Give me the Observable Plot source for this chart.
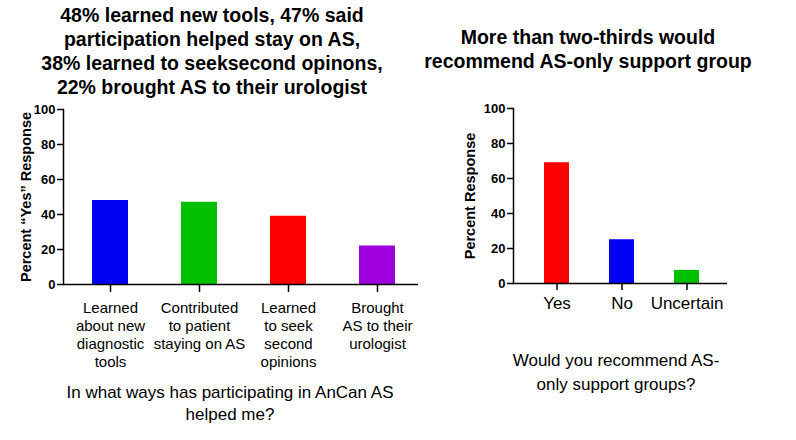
<!DOCTYPE html>
<html>
<head>
<meta charset="utf-8">
<script src="https://cdn.jsdelivr.net/npm/d3@7"></script>
<script src="https://cdn.jsdelivr.net/npm/@observablehq/plot@0.6"></script>
<style>
  body { margin: 0; background: #fff; font-family: "Liberation Sans", Arial, sans-serif; color: #000; }
  #wrap { position: relative; width: 796px; height: 440px; overflow: hidden; background: #fff; }
  .t { position: absolute; text-align: center; white-space: nowrap; color: #000; }
  .title { font-weight: bold; font-size: 19.5px; line-height: 24px; }
  .xt { font-size: 17px; }
  g[aria-label="y-axis label"] { font-size: 14.5px; }
</style>
</head>
<body>
<div id="wrap">
  <div class="t title" style="left:0px; width:424px; top:3px;">48% learned new tools, 47% said<br>participation helped stay on AS,<br>38% learned to seeksecond opinons,<br>22% brought AS to their urologist</div>
  <div class="t title" style="left:388px; width:400px; top:25px;">More than two-thirds would<br>recommend AS-only support group</div>
  <div class="t xt" style="left:30px; width:400px; top:382px; line-height:22px;">In what ways has participating in AnCan AS<br>helped me?</div>
  <div class="t xt" style="left:466px; width:300px; top:349px; line-height:24px;">Would you recommend AS-<br>only support groups?</div>
</div>
<script>
// Left panel data
const helpCategories = [
  "Learned\nabout new\ndiagnostic\ntools",
  "Contributed\nto patient\nstaying on AS",
  "Learned\nto seek\nsecond\nopinions",
  "Brought\nAS to their\nurologist"
];
const helpValues = [48, 47, 39, 22];
const helpColors = ["#0000f5", "#00c000", "#ff0000", "#a000e0"];

// Right panel data
const recCategories = ["Yes", "No", "Uncertain"];
const recValues = [69, 25, 7.5];
const recColors = ["#ff0000", "#0000f5", "#00c000"];

const yTicks = [0, 20, 40, 60, 80, 100];

const helpData = helpCategories.map((c, i) => ({ c, v: helpValues[i] }));
const recData = recCategories.map((c, i) => ({ c, v: recValues[i] }));

const font = "'Liberation Sans', Arial, sans-serif";

const left = Plot.plot({
  width: 430, height: 280,
  marginLeft: 63, marginRight: 12, marginTop: 14, marginBottom: 91,
  style: { fontFamily: font, color: "#000", background: "transparent", overflow: "visible", position: "absolute", left: "0px", top: "95px" },
  x: { domain: helpCategories, paddingInner: 0.6, paddingOuter: 0.29, align: 0.55 },
  y: { domain: [0, 100] },
  color: { domain: helpCategories, range: helpColors },
  marks: [
    Plot.barY(helpData, { x: "c", y: "v", fill: "c" }),
    Plot.axisY({ ticks: yTicks, tickSize: 6, tickPadding: 2, fontSize: 13, fontWeight: "bold", strokeWidth: 1.5,
      label: "Percent “Yes” Response", labelAnchor: "center", labelArrow: "none", labelOffset: 43 }),
    Plot.axisX({ tickSize: 8, tickPadding: 8, fontSize: 15, lineHeight: 1.2, strokeWidth: 1.5, label: null }),
    Plot.ruleY([0], { strokeWidth: 1.5 }),
    Plot.frame({ anchor: "left", strokeWidth: 1.5 })
  ]
});

const right = Plot.plot({
  width: 300, height: 230,
  marginLeft: 73, marginRight: 13, marginTop: 13, marginBottom: 42,
  style: { fontFamily: font, color: "#000", background: "transparent", overflow: "visible", position: "absolute", left: "440px", top: "95px" },
  x: { domain: recCategories, paddingInner: 0.62, paddingOuter: 0.456, align: 0.53 },
  y: { domain: [0, 100] },
  color: { domain: recCategories, range: recColors },
  marks: [
    Plot.barY(recData, { x: "c", y: "v", fill: "c" }),
    Plot.axisY({ ticks: yTicks, tickSize: 6, tickPadding: 2, fontSize: 13, fontWeight: "bold", strokeWidth: 1.5,
      label: "Percent Response", labelAnchor: "center", labelArrow: "none", labelOffset: 49 }),
    Plot.axisX({ tickSize: 7, tickPadding: 6, fontSize: 17, strokeWidth: 1.5, label: null }),
    Plot.ruleY([0], { strokeWidth: 1.5 }),
    Plot.frame({ anchor: "left", strokeWidth: 1.5 })
  ]
});

const wrap = document.getElementById("wrap");
wrap.appendChild(left);
wrap.appendChild(right);
</script>
</body>
</html>
